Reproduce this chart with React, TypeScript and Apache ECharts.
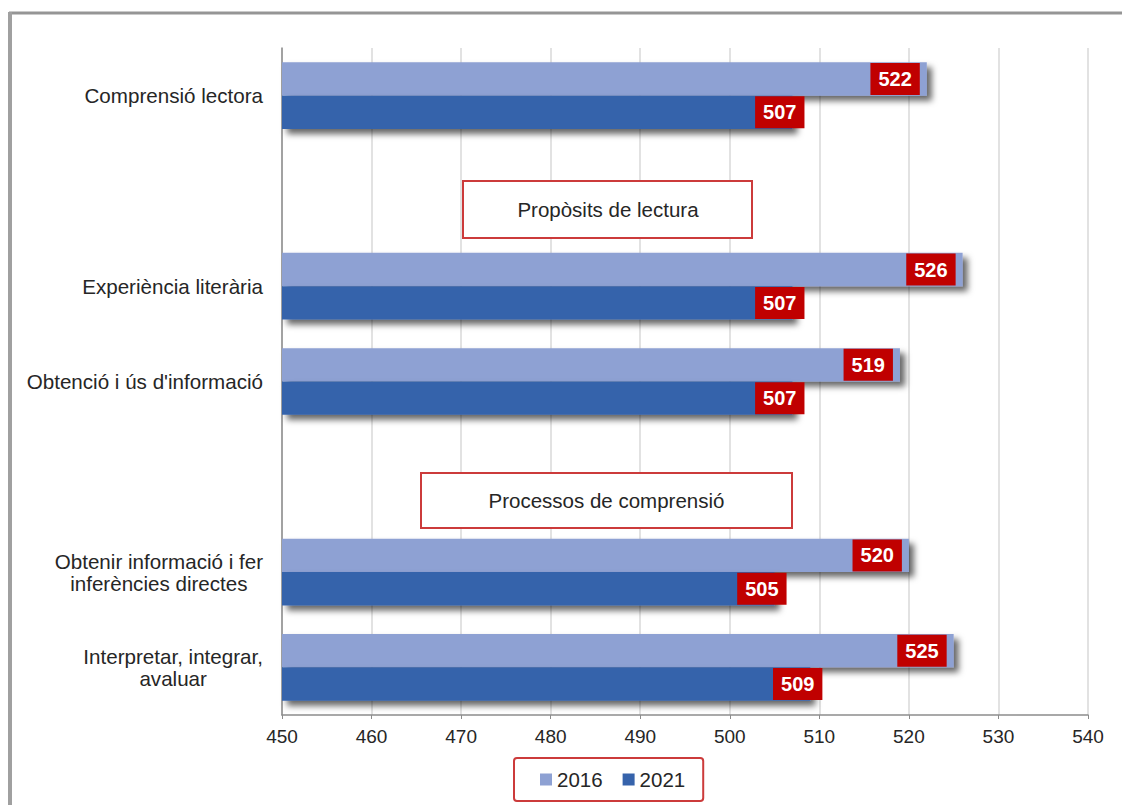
import React, { useEffect, useRef } from "react";
import * as echarts from "echarts";

const categories: string[] = [
  "Comprensió lectora",
  "",
  "Experiència literària",
  "Obtenció i ús d'informació",
  "",
  "Obtenir informació i fer\ninferències directes",
  "Interpretar, integrar,\navaluar",
];
const values2016: (number | null)[] = [522, null, 526, 519, null, 520, 525];
const values2021: (number | null)[] = [507, null, 507, 507, null, 505, 509];
const seriesNames = ["2016", "2021"];
const xTicks = { min: 450, max: 540, interval: 10 };
const sectionTitles = ["Propòsits de lectura", "Processos de comprensió"];

const FONT = "'Liberation Sans', Arial, Helvetica, sans-serif";
const TEXT = "#262626";
const LIGHT = "#8ea1d3";
const DARK = "#3663ab";
const LABEL_BG = "#c00000";
const BOX_RED = "#cc3b3b";

export default function App() {
  const ref = useRef<HTMLDivElement>(null);
  useEffect(() => {
    if (!ref.current) return;
    const chart = echarts.init(ref.current, null, { renderer: "svg" });
    const barLabel = (offsetX: number) => ({
      show: true,
      position: "insideRight" as const,
      distance: 5,
      offset: [offsetX, 0],
      color: "#ffffff",
      fontFamily: FONT,
      fontWeight: "bold" as const,
      fontSize: 20,
      lineHeight: 20,
      backgroundColor: LABEL_BG,
      padding: [6, 8, 6, 8],
    });
    const shadow = {
      shadowBlur: 6,
      shadowColor: "rgba(0,0,0,0.6)",
      shadowOffsetX: 5,
      shadowOffsetY: 5,
    };
    chart.setOption({
      animation: false,
      backgroundColor: "#ffffff",
      grid: { left: 282, right: 34, top: 48, bottom: 90, containLabel: false },
      xAxis: {
        type: "value",
        min: xTicks.min,
        max: xTicks.max,
        interval: xTicks.interval,
        axisLine: { show: true, lineStyle: { color: "#8c8c8c", width: 1.5 } },
        axisTick: { show: true, length: 4, lineStyle: { color: "#8c8c8c" } },
        axisLabel: { color: TEXT, fontFamily: FONT, fontSize: 19, margin: 12 },
        splitLine: { show: true, lineStyle: { color: "#d9d9d9", width: 1.5 } },
      },
      yAxis: {
        type: "category",
        inverse: true,
        data: categories,
        axisLine: { show: true, lineStyle: { color: "#8c8c8c", width: 1.5 } },
        axisTick: { show: false },
        axisLabel: {
          align: "right",
          margin: 19,
          formatter: (v: string) =>
            v ? v.split("\n").map((l) => `{c|${l}}`).join("\n") : "",
          rich: {
            c: {
              align: "center",
              fontFamily: FONT,
              fontSize: 20.6,
              lineHeight: 22,
              color: TEXT,
            },
          },
        },
      },
      legend: {
        left: 514,
        top: 758,
        orient: "horizontal",
        data: seriesNames,
        icon: "rect",
        itemWidth: 12,
        itemHeight: 12,
        itemGap: 20,
        padding: [11, 18, 11, 26],
        borderColor: BOX_RED,
        borderWidth: 2,
        borderRadius: 3,
        textStyle: { color: TEXT, fontFamily: FONT, fontSize: 20.5 },
      },
      series: [
        {
          name: seriesNames[0],
          type: "bar",
          data: values2016,
          barGap: "0%",
          barCategoryGap: "30%",
          itemStyle: { color: LIGHT, ...shadow },
          label: barLabel(-2),
        },
        {
          name: seriesNames[1],
          type: "bar",
          data: values2021,
          barGap: "0%",
          barCategoryGap: "30%",
          itemStyle: { color: DARK, ...shadow },
          label: barLabel(17),
        },
      ],
      graphic: [
        {
          type: "line",
          shape: { x1: 9, y1: 13, x2: 1122, y2: 13 },
          style: { stroke: "#959595", lineWidth: 3 },
        },
        {
          type: "line",
          shape: { x1: 10, y1: 12, x2: 10, y2: 805 },
          style: { stroke: "#a0a0a0", lineWidth: 4 },
        },
        {
          type: "rect",
          shape: { x: 463, y: 181, width: 289, height: 57 },
          style: { fill: "#ffffff", stroke: BOX_RED, lineWidth: 2 },
          z: 10,
        },
        {
          type: "text",
          x: 608,
          y: 209.5,
          style: {
            text: sectionTitles[0],
            fill: TEXT,
            font: `20.5px ${FONT}`,
            textAlign: "center",
            textVerticalAlign: "middle",
          },
          z: 11,
        },
        {
          type: "rect",
          shape: { x: 421, y: 473, width: 371, height: 55 },
          style: { fill: "#ffffff", stroke: BOX_RED, lineWidth: 2 },
          z: 10,
        },
        {
          type: "text",
          x: 606.5,
          y: 500.5,
          style: {
            text: sectionTitles[1],
            fill: TEXT,
            font: `20.5px ${FONT}`,
            textAlign: "center",
            textVerticalAlign: "middle",
          },
          z: 11,
        },
      ],
    });
    return () => chart.dispose();
  }, []);
  return (
    <div
      ref={ref}
      style={{ position: "absolute", left: 0, top: 0, width: 1122, height: 805 }}
    />
  );
}
